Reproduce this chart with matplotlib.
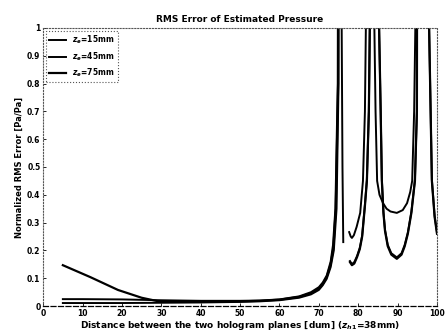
import numpy as np
import matplotlib.pyplot as plt

nan = np.nan

# z_e = 15mm
x15 = [5, 10, 20, 30, 40, 50, 55, 60, 65, 68, 70, 71, 72, 73, 73.6, 74.2, 74.8, 75.3,
       75.6, 75.8, 76.0, 76.2, 76.3,
       77.7, 78.1, 78.4, 78.9, 79.6, 80.5, 81.2, 81.7, 82.1, 82.5,
       83.8, 84.1, 84.4, 84.8, 85.4, 86.3, 87.2, 88.2, 89.8, 91.3, 92.4, 93.2, 93.7, 94.2, 94.5, 94.8,
       97.0, 98.5, 100]
y15 = [0.025, 0.025, 0.024, 0.021, 0.019, 0.019, 0.02, 0.024, 0.035, 0.05, 0.068, 0.085, 0.11, 0.16, 0.22, 0.35, 0.8, 5,
       5, 1.0, 0.5, 0.23, nan,
       0.266, 0.25, 0.245, 0.255, 0.285, 0.335, 0.45, 0.7, 1.2, 5,
       5, 1.0, 0.7, 0.45, 0.4, 0.37, 0.35, 0.34, 0.335, 0.345, 0.37, 0.41, 0.45, 0.7, 1.0, 5,
       5, 1.6, 1.1]

# z_e = 45mm
x45 = [5, 10, 20, 30, 40, 50, 55, 60, 65, 68, 70, 71, 72, 73, 73.8, 74.5, 75.0, 75.4,
       75.6,
       77.9, 78.4, 79.0, 79.7, 80.4, 81.0, 81.7, 82.2, 82.7, 83.1, 83.5,
       84.8, 85.3, 85.7, 86.0, 86.4, 86.8, 87.5, 88.4, 89.8, 91.0, 91.8, 92.6, 93.5, 94.4, 94.9, 95.3,
       97.5, 98.0, 98.7, 99.4, 100]
y45 = [0.011, 0.011, 0.011, 0.012, 0.013, 0.015, 0.017, 0.021, 0.03, 0.042, 0.058, 0.075, 0.098, 0.14, 0.2, 0.35, 0.8, 5,
       nan,
       0.162, 0.151, 0.158, 0.18, 0.21, 0.254, 0.365, 0.455, 0.7, 1.2, 5,
       5, 1.0, 0.7, 0.455, 0.34, 0.275, 0.22, 0.19, 0.175, 0.19, 0.22, 0.265, 0.34, 0.455, 0.7, 5,
       5, 1.0, 0.455, 0.325, 0.265]

# z_e = 75mm
x75 = [5, 12, 19, 25, 29, 35, 40, 50, 55, 60, 65, 68, 70, 71, 72, 73, 73.7, 74.3, 74.9, 75.3,
       75.6,
       77.9, 78.4, 79.0, 79.7, 80.4, 81.0, 81.7, 82.2, 82.7, 83.1, 83.5,
       84.8, 85.3, 85.7, 86.0, 86.4, 86.8, 87.5, 88.4, 89.8, 91.0, 91.8, 92.6, 93.5, 94.4, 94.9, 95.3,
       97.5, 98.0, 98.7, 99.4, 100]
y75 = [0.147, 0.104, 0.058, 0.03, 0.018, 0.016, 0.016, 0.017, 0.019, 0.023, 0.033, 0.046, 0.063, 0.08, 0.105, 0.15, 0.21, 0.35, 0.8, 5,
       nan,
       0.158, 0.147, 0.153, 0.176, 0.205, 0.25, 0.36, 0.45, 0.7, 1.2, 5,
       5, 1.0, 0.7, 0.45, 0.335, 0.27, 0.215, 0.185, 0.17, 0.185, 0.215, 0.26, 0.335, 0.45, 0.7, 5,
       5, 1.0, 0.45, 0.32, 0.26]

labels = ['$z_e$=15mm', '$z_e$=45mm', '$z_e$=75mm']

plt.rcParams['font.family'] = 'DejaVu Sans'
plt.rcParams['font.weight'] = 'bold'

fig = plt.figure(figsize=(4.45, 3.36), dpi=100)
ax = fig.add_axes([0.097, 0.089, 0.885, 0.828])

ax.plot(x15, y15, color='black', lw=1.4, label=labels[0])
ax.plot(x45, y45, color='black', lw=1.4, label=labels[1])
ax.plot(x75, y75, color='black', lw=1.6, label=labels[2])

ax.set_xlim(0, 100)
ax.set_ylim(0, 1)
ax.set_xticks(np.arange(0, 101, 10))
ax.set_yticks(np.arange(0, 1.01, 0.1))
ax.set_yticklabels(['0', '0.1', '0.2', '0.3', '0.4', '0.5', '0.6', '0.7', '0.8', '0.9', '1'])
ax.tick_params(direction='in', length=2.5, width=0.6, labelsize=5.5, pad=2)
for lab in ax.get_xticklabels() + ax.get_yticklabels():
    lab.set_fontweight('bold')

for side in ['top', 'right', 'left']:
    ax.spines[side].set_linestyle(':')
    ax.spines[side].set_color('#555555')
    ax.spines[side].set_linewidth(0.8)
ax.spines['bottom'].set_linestyle((0, (4, 2)))
ax.spines['bottom'].set_linewidth(0.9)

ax.set_title('RMS Error of Estimated Pressure', fontsize=6.5, fontweight='bold', pad=4)
ax.set_xlabel('Distance between the two hologram planes [dum] ($z_{h1}$=38mm)',
              fontsize=6.5, fontweight='bold', labelpad=1)
ax.set_ylabel('Normalized RMS Error [Pa/Pa]', fontsize=6, fontweight='bold', labelpad=2)

leg = ax.legend(loc='upper left', fontsize=5.5, handlelength=2.2, borderpad=0.4,
                labelspacing=0.5, fancybox=False, framealpha=1, borderaxespad=0.4)
leg.get_frame().set_linestyle(':')
leg.get_frame().set_edgecolor('#555555')
leg.get_frame().set_linewidth(0.8)

fig.savefig('out.png', dpi=100)
